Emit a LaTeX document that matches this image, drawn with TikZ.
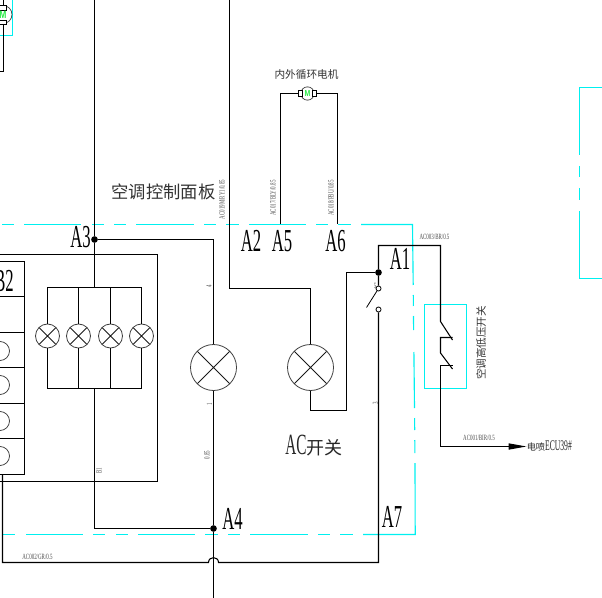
\documentclass[tikz,border=0pt]{standalone}
\usepackage{fontspec}
\usetikzlibrary{arrows.meta}
\setmainfont{Liberation Serif}
\newfontfamily\tallfont[FakeStretch=0.52]{Liberation Serif}
\newfontfamily\smallfont[FakeStretch=0.62]{Liberation Serif}
\newfontfamily\mfont[FakeStretch=0.8]{Liberation Sans}
\newfontfamily\cjk{Noto Sans CJK SC}
\definecolor{cy}{RGB}{0,240,240}
\definecolor{grn}{RGB}{40,235,70}
\tikzset{
  wire/.style={draw=black,line width=0.8pt},
  thin cyan/.style={draw=cy,line width=0.85pt},
  lampbig/.style={circle,draw=black!75,line width=0.6pt,minimum size=34.5pt,inner sep=0pt,
    path picture={\draw[black!90,line width=0.55pt] (path picture bounding box.north west)--(path picture bounding box.south east)
      (path picture bounding box.north east)--(path picture bounding box.south west);}},
  lampsmall/.style={lampbig,minimum size=18pt},
  dotj/.style={circle,fill=black,inner sep=0pt,minimum size=5pt},
  contact/.style={circle,draw=black,fill=white,line width=0.6pt,inner sep=0pt,minimum size=3.8pt},
  tagA/.style={font=\tallfont\fontsize{24}{24}\selectfont,inner sep=0pt},
  cntext/.style={font=\cjk\fontsize{#1}{#1}\selectfont,text=black!80,inner sep=0pt},
  tiny/.style={font=\smallfont\fontsize{6}{6}\selectfont,text=black!70,inner sep=0pt},
  motorbody/.style={circle,draw=black!75,fill=white,line width=0.55pt,minimum size=10pt,inner sep=0pt},
  brush/.style={draw=black,fill=white,line width=0.7pt,inner sep=0pt},
}
\begin{document}
\begin{tikzpicture}[x=0.75pt,y=-0.75pt]
\useasboundingbox (0,0) rectangle (602,598);
% ---- cyan outlines
\foreach \a/\b in {2/14,24/81,92/104,114/126,136/194,204/216,226/239,249/306,316/328,338/351}
  \draw[thin cyan] (\a,224.5) -- (\b,224.5);
\draw[thin cyan] (361,224.5) -- (412.5,224.5) -- (413.2,285);
\foreach \a/\b/\c/\d in {413.3/295/413.4/306,413.5/316/413.6/330,413.9/352/414.5/408,414.6/418/414.7/430,414.8/440/414.9/453}
  \draw[thin cyan] (\a,\b) -- (\c,\d);
\draw[thin cyan] (415,463) -- (415.2,534.5) -- (363,534.5);
\foreach \a/\b in {3/15,26/83,93/105,116/128,138/195,205/218,228/240,250/308,318/330,340/353}
  \draw[thin cyan] (\a,534.5) -- (\b,534.5);
\draw[thin cyan] (602,87.5) -- (579.5,87.5) -- (579.5,155);
\draw[thin cyan] (579.5,166) -- (579.5,177.5);
\draw[thin cyan] (579.5,188) -- (579.5,200.5);
\draw[thin cyan] (579.5,211) -- (579.5,278.5) -- (602,278.5);
\draw[thin cyan] (12.5,0) -- (12.5,35.5) -- (0,35.5);
\draw[thin cyan] (424.5,304.5) rectangle (466.5,388.5);
% ---- junctions
\coordinate (topA3) at (94.5,0);
\node[dotj] (A3) at (94.5,239.5) {};
\coordinate (busT) at (94.5,287.5);
\coordinate (busB) at (94.5,388.5);
\node[dotj] (A4) at (213.5,528.5) {};
\node[dotj] (A1) at (378.5,272.5) {};
\node[lampsmall] (l1) at (47.5,336) {};
\node[lampsmall] (l2) at (78.5,336) {};
\node[lampsmall] (l3) at (110.5,336) {};
\node[lampsmall] (l4) at (141.5,336) {};
\node[lampbig] (L1) at (213.5,367.5) {};
\node[lampbig] (L2) at (310.5,367.5) {};
\node[contact] (c1) at (378.5,288.5) {};
\node[contact] (c2) at (378.5,309.5) {};
\coordinate (blade) at (366.5,307.5);
% wires
\draw[wire] (topA3) -- (A3) -- (busT);
\draw[wire] (l1.north) |- (busT) -| (l4.north);
\draw[wire] (l2.north) -- (78.5,287.5) (l3.north) -- (110.5,287.5);
\draw[wire] (l1.south) |- (busB) -| (l4.south);
\draw[wire] (l2.south) -- (78.5,388.5) (l3.south) -- (110.5,388.5);
\draw[wire] (busB) |- (A4);
\draw[wire] (A3) -| (L1.north);
\draw[wire] (L1.south) -- (A4) -- (213.5,598);
\draw[wire] (229.5,0) |- (310.5,288.5) -- (L2.north);
\draw[wire] (L2.south) |- (346.5,410.5) |- (A1);
\draw[wire] (c1) -- (A1) |- (440.5,245.5) -- (440.5,321.5) -- (452.5,340);
\draw[wire] (452.5,337.5) -- (440.5,337.5) -- (440.5,353) -- (452.5,369);
\node[inner sep=0pt,font=\cjk\fontsize{6.9}{8}\selectfont,anchor=west,text=black!85] (ecu) at (526.5,446.5) {电喷{\tallfont\fontsize{11}{11}\selectfont ECU39\#}};
\draw[wire,-{Triangle[length=13.5pt,width=4.6pt]}] (452.5,365.5) -- (440.5,365.5) |- (ecu.west);
\draw[wire,line width=0.6pt] (blade) -- (c1);
\draw[wire] (c2) |- (218.5,562.5) .. controls (218.5,556) and (208.5,556) .. (208.5,562.5) -| (2.5,474.5);
% control box
\draw[wire] (0,254.5) -| (157.5,481.5) -- (0,481.5);
\draw[wire] (24.5,261.5) -- (24.5,474.5);
\draw[wire] (0,261.5) -- (24.5,261.5);
\foreach \y in {296.5,332.5,367.5,403.5,438.5,474.5} \draw[wire] (0,\y) -- (24.5,\y);
\foreach \y in {351,385,421,456} \draw[black!80,line width=0.55pt] (0,\y) circle[radius=9.5];
% motors
\draw[wire] (280.5,224) |- (298,93.5);
\draw[wire] (337.5,224) |- (317,93.5);
\node[motorbody] (m1) at (307.5,93.5) {};
\draw[brush] (298.5,90.5) rectangle (302.5,96.5);
\draw[brush] (312.5,90.5) rectangle (316.5,96.5);
\node[inner sep=0pt,text=grn,font=\mfont\bfseries\fontsize{6.5}{7}\selectfont] (m1t) at (307.5,93.5) {M};
\draw[wire] (3.5,0) -- (3.5,71.5) -- (0,71.5);
\node[motorbody,minimum size=13.5pt] (m2) at (3,14.5) {};
\draw[brush] (-4,5.5) rectangle (6.5,10.5);
\draw[brush] (-4,20.5) rectangle (6.5,24.5);
\node[inner sep=0pt,text=grn,font=\mfont\bfseries\fontsize{8}{8}\selectfont] (m2t) at (3,14.5) {M};
% labels
\node[cntext=13] (t1) at (163.5,191.5) {空调控制面板};
\node[cntext=8] (t2) at (306.5,74) {内外循环电机};
\node[cntext=7.9,rotate=90] (t3) at (481,343) {空调高低压开关};
\node[inner sep=0pt,font=\cjk\fontsize{13.5}{14}\selectfont,text=black!85] (t4) at (314,446) {{\tallfont\fontsize{22}{22}\selectfont AC}开关};
\node[tagA] (tA3) at (80.5,237) {A3};
\node[tagA] (tA2) at (251,241) {A2};
\node[tagA] (tA5) at (282,241) {A5};
\node[tagA] (tA6) at (335.5,241) {A6};
\node[tagA] (tA1) at (400,259) {A1};
\node[tagA] (tA4) at (232.5,519) {A4};
\node[tagA] (tA7) at (392,517) {A7};
\node[tagA] (tB2) at (4,281) {B2};
\node[tiny,rotate=90] (s1) at (222,199.5) {AC019M/RY1/0.85};
\node[tiny,rotate=90] (s2) at (273,198) {AC017/BLY/0.85};
\node[tiny,rotate=90] (s3) at (331,198) {AC018/PBU/0.85};
\node[tiny] (s4) at (434.5,237) {AC003/BR/0.5};
\node[tiny] (s5) at (479,437.5) {AC001/BIR/0.5};
\node[tiny] (s6) at (37.5,557) {AC002/GR/0.5};
\node[tiny,rotate=90] (s7) at (207,455) {0.85};
\node[tiny,rotate=90] (s8) at (209.5,404.5) {1};
\node[tiny,rotate=90] (s9) at (209,286) {4};
\node[tiny,rotate=90] (s10) at (375.5,403) {3};
\node[tiny] (s11) at (375,286) {5};
\node[tiny,rotate=90] (s12) at (99,470.5) {B1};
\end{tikzpicture}
\end{document}
